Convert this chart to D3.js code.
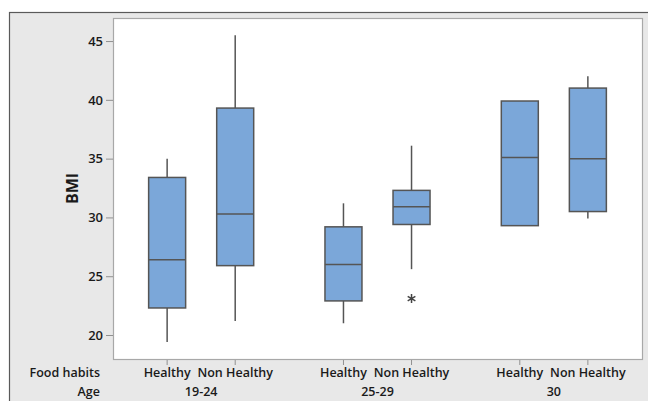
<!DOCTYPE html>
<html>
<head>
<meta charset="utf-8">
<script src="https://cdn.jsdelivr.net/npm/d3@7"></script>
<style>
  html, body { margin: 0; padding: 0; background: #fff; }
  svg { display: block; }
  text { font-family: "Open Sans", "Noto Sans", sans-serif; fill: #1a1a1a; }
</style>
</head>
<body>
<svg id="chart" width="648" height="401"></svg>
<script>
// BMI by age group and food habits
const ages = ["19-24", "25-29", "30"];
const habits = ["Healthy", "Non Healthy"];
// five-number summaries, one entry per age x habit (age-major order)
const whiskerLow  = [19.4, 21.2, 21.0, 25.6, 29.3, 29.9];
const q1          = [22.3, 25.9, 22.9, 29.4, 29.3, 30.5];
const median      = [26.4, 30.3, 26.0, 30.9, 35.1, 35.0];
const q3          = [33.4, 39.3, 29.2, 32.3, 39.9, 41.0];
const whiskerHigh = [35.0, 45.5, 31.2, 36.1, 39.9, 42.0];
// outlying points: [box index, value]
const outliers = [[3, 23.1]];
const yTicks = [20, 25, 30, 35, 40, 45];

const svg = d3.select("#chart");
const W = 648, H = 401;
const plot = { left: 113, top: 18, right: 642, bottom: 359 };
const fs = 12.5;

// grey chart background with dark frame
svg.append("rect").attr("x", 0).attr("y", 0).attr("width", W).attr("height", H).attr("fill", "#fff");
svg.append("rect").attr("x", 9.5).attr("y", 12.5).attr("width", W).attr("height", H)
  .attr("fill", "#e8e8e8").attr("stroke", "#5a5a5a").attr("stroke-width", 1.2);

// white data region
svg.append("rect")
  .attr("x", plot.left + 0.5).attr("y", plot.top + 0.5)
  .attr("width", plot.right - plot.left).attr("height", plot.bottom - plot.top)
  .attr("fill", "#fff").attr("stroke", "#a8a8a8").attr("stroke-width", 1.2);

const y = d3.scaleLinear().domain([17.96, 46.96]).range([plot.bottom, plot.top]);
const xAge = d3.scaleBand().domain(ages).range([plot.left, plot.right]).padding(0);
const xHabit = d3.scalePoint().domain(habits).range([xAge.bandwidth() * 0.307, xAge.bandwidth() * 0.693]);

const boxes = [];
ages.forEach((a, i) => habits.forEach((h, j) => {
  const k = i * habits.length + j;
  boxes.push({ age: a, habit: h, cx: xAge(a) + xHabit(h),
    lo: whiskerLow[k], q1: q1[k], med: median[k], q3: q3[k], hi: whiskerHigh[k] });
}));

// y axis
const yAxis = d3.axisLeft(y).tickValues(yTicks).tickSize(7).tickPadding(3);
const gy = svg.append("g").attr("transform", `translate(${plot.left},0)`).call(yAxis);
gy.select(".domain").remove();
gy.selectAll(".tick line").attr("stroke", "#909090");
gy.selectAll(".tick text").attr("font-size", 13).attr("font-weight", 600)
  .attr("fill", "#1a1a1a").style("font-family", "'Open Sans', sans-serif");

svg.append("text")
  .attr("transform", `translate(78,${(plot.top + plot.bottom) / 2}) rotate(-90)`)
  .attr("text-anchor", "middle").attr("font-size", 16).attr("font-weight", 700)
  .text("BMI");

// boxes and whiskers
const boxW = 37;
const stroke = "#555555";
const gB = svg.append("g");
boxes.forEach(b => {
  const g = gB.append("g");
  g.append("line").attr("x1", b.cx).attr("x2", b.cx).attr("y1", y(b.q3)).attr("y2", y(b.hi))
    .attr("stroke", stroke).attr("stroke-width", 1.5);
  g.append("line").attr("x1", b.cx).attr("x2", b.cx).attr("y1", y(b.q1)).attr("y2", y(b.lo))
    .attr("stroke", stroke).attr("stroke-width", 1.5);
  g.append("rect").attr("x", b.cx - boxW / 2).attr("y", y(b.q3))
    .attr("width", boxW).attr("height", y(b.q1) - y(b.q3))
    .attr("fill", "#7ba7d9").attr("stroke", stroke).attr("stroke-width", 1.5);
  g.append("line").attr("x1", b.cx - boxW / 2).attr("x2", b.cx + boxW / 2)
    .attr("y1", y(b.med)).attr("y2", y(b.med)).attr("stroke", stroke).attr("stroke-width", 1.5);
});

// outliers drawn as asterisks
const star = d3.symbol().type(d3.symbolAsterisk || d3.symbolCross).size(55);
outliers.forEach(([k, v]) => {
  svg.append("path").attr("d", star())
    .attr("transform", `translate(${boxes[k].cx},${y(v)})`)
    .attr("fill", "none").attr("stroke", "#444").attr("stroke-width", 1.5);
});

// category ticks and labels
const gx = svg.append("g");
boxes.forEach(b => {
  gx.append("line").attr("x1", b.cx).attr("x2", b.cx)
    .attr("y1", plot.bottom + 1).attr("y2", plot.bottom + 6).attr("stroke", "#909090");
  gx.append("text").attr("x", b.cx).attr("y", 377).attr("text-anchor", "middle")
    .attr("font-size", fs).attr("font-weight", 600).text(b.habit);
});
ages.forEach(a => {
  gx.append("text").attr("x", xAge(a) + xAge.bandwidth() / 2).attr("y", 396)
    .attr("text-anchor", "middle").attr("font-size", fs).attr("font-weight", 600).text(a);
});
gx.append("text").attr("x", 100).attr("y", 377).attr("text-anchor", "end")
  .attr("font-size", fs).attr("font-weight", 600).text("Food habits");
gx.append("text").attr("x", 100).attr("y", 396).attr("text-anchor", "end")
  .attr("font-size", fs).attr("font-weight", 600).text("Age");
</script>
</body>
</html>
